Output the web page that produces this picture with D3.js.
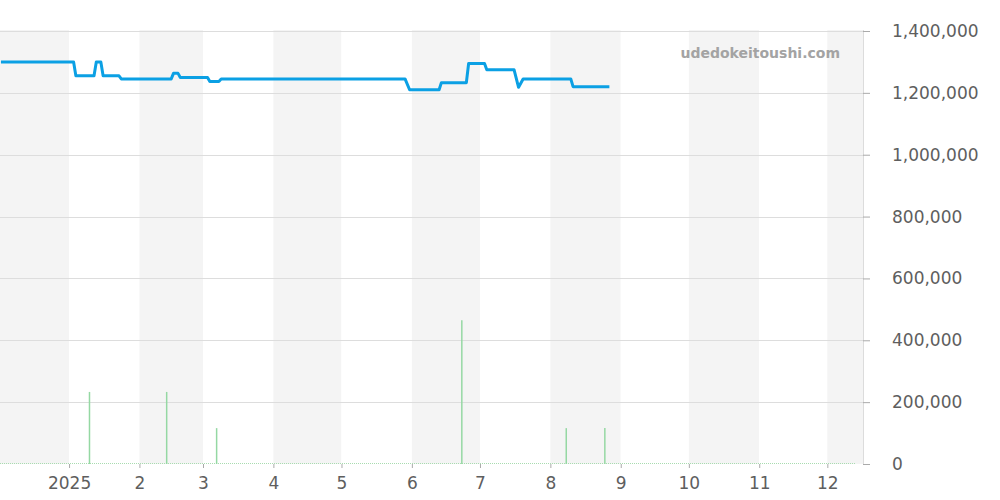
<!DOCTYPE html>
<html>
<head>
<meta charset="utf-8">
<script src="https://cdn.jsdelivr.net/npm/d3@7"></script>
<style>
  body { margin: 0; background: #fff; }
  svg { display: block; font-family: "DejaVu Sans", sans-serif; }
  .axis text { fill: #5e5e5e; font-size: 17px; font-family: "DejaVu Sans", sans-serif; }
  .axis path { display: none; }
  .axis line { stroke: #aaa; }
</style>
</head>
<body>
<div id="chart"></div>
<script>
// price line (step changes)
var priceDates = ['2024-12-02','2025-01-03','2025-01-04','2025-01-12','2025-01-13','2025-01-15','2025-01-16',
  '2025-01-23','2025-01-24','2025-02-15','2025-02-16','2025-02-18','2025-02-19','2025-03-03','2025-03-04',
  '2025-03-08','2025-03-09','2025-05-29','2025-05-31','2025-06-13','2025-06-14','2025-06-25','2025-06-26',
  '2025-07-03','2025-07-04','2025-07-16','2025-07-18','2025-07-20','2025-08-10','2025-08-11','2025-08-27'];
var priceValues = [1300000,1300000,1255000,1255000,1300000,1300000,1255000,
  1255000,1245000,1245000,1263000,1263000,1250000,1250000,1237000,
  1237000,1245000,1245000,1210000,1210000,1233000,1233000,1295000,
  1295000,1275000,1275000,1218000,1245000,1245000,1220000,1220000];

// volume bars
var volDates = ['2025-01-10','2025-02-13','2025-03-07','2025-06-23','2025-08-08','2025-08-25'];
var volValues = [233000,233000,116000,465000,116000,116000];

var yTicks = [0,200000,400000,600000,800000,1000000,1200000,1400000];
var domainStart = '2024-12-01T14:00', domainEnd = '2025-12-16T17:00';

var parse = d3.isoParse;
var W = 1000, H = 500;
var plotL = 0, plotR = 863, plotT = 30, plotB = 464;

var x = d3.scaleTime().domain([parse(domainStart), parse(domainEnd)]).range([plotL, plotR]);
var y = d3.scaleLinear().domain([0, 1400000]).range([plotB, 31]);

var svg = d3.select('#chart').append('svg').attr('width', W).attr('height', H);

// alternating month bands
var months = d3.timeMonth.range(d3.timeMonth.floor(x.domain()[0]), x.domain()[1]);
svg.append('g').selectAll('rect').data(months).enter().append('rect')
  .attr('x', function(d){ return Math.max(plotL, x(d)); })
  .attr('y', plotT)
  .attr('width', function(d){ return Math.min(plotR, x(d3.timeMonth.offset(d,1))) - Math.max(plotL, x(d)); })
  .attr('height', plotB - plotT)
  .attr('fill', function(d){ return d.getMonth() % 2 === 1 ? '#f4f4f4' : '#fff'; });

// horizontal grid
svg.append('g').selectAll('line').data(yTicks.filter(function(d){ return d > 0; })).enter().append('line')
  .attr('x1', plotL).attr('x2', plotR)
  .attr('y1', function(d){ return Math.round(y(d)) + 0.5; })
  .attr('y2', function(d){ return Math.round(y(d)) + 0.5; })
  .attr('stroke', '#dddddd');

// right border
svg.append('line').attr('x1', plotR + 0.5).attr('x2', plotR + 0.5).attr('y1', plotT).attr('y2', plotB)
  .attr('stroke', '#dcdcdc');

// watermark
svg.append('text').attr('x', 840).attr('y', 58).attr('text-anchor', 'end')
  .style('font-size', '14px').style('font-weight', 'bold').attr('fill', '#a3a3a3')
  .text('udedokeitoushi.com');

// volume baseline (dotted) and bars
svg.append('line').attr('x1', plotL).attr('x2', 856).attr('y1', plotB - 0.5).attr('y2', plotB - 0.5)
  .attr('stroke', '#a8dcb0').attr('stroke-width', 1).attr('stroke-dasharray', '1,1');
svg.append('g').selectAll('line').data(volDates).enter().append('line')
  .attr('x1', function(d){ return x(parse(d)); })
  .attr('x2', function(d){ return x(parse(d)); })
  .attr('y1', plotB)
  .attr('y2', function(d, i){ return y(volValues[i]); })
  .attr('stroke', '#95d8a3').attr('stroke-width', 1.5);

// price line
var line = d3.line()
  .x(function(d){ return x(parse(d)); })
  .y(function(d, i){ return y(priceValues[i]); });
svg.append('path').datum(priceDates).attr('d', line)
  .attr('fill', 'none').attr('stroke', '#0ba0e4').attr('stroke-width', 3).attr('stroke-linejoin', 'round');

// x axis
var xAxis = d3.axisBottom(x)
  .tickValues(d3.timeMonth.range(parse('2025-01-01'), parse('2025-12-02')))
  .tickSize(4).tickPadding(9)
  .tickFormat(function(d){ return d.getMonth() === 0 ? d3.timeFormat('%Y')(d) : String(d.getMonth() + 1); });
svg.append('g').attr('class', 'axis').attr('transform', 'translate(0,' + plotB + ')').call(xAxis);

// y axis (right)
var yAxis = d3.axisRight(y).tickValues(yTicks).tickSize(7).tickPadding(22)
  .tickFormat(d3.format(','));
svg.append('g').attr('class', 'axis').attr('transform', 'translate(' + plotR + ',0)').call(yAxis);
</script>
</body>
</html>
